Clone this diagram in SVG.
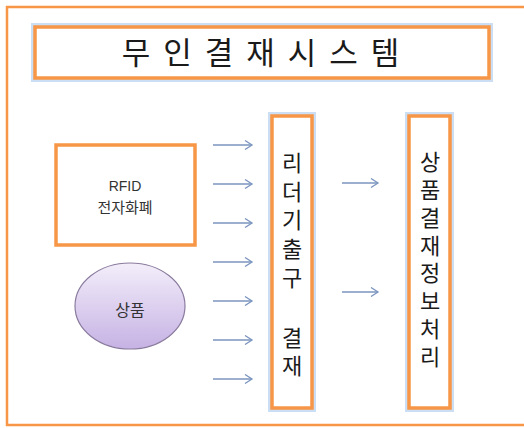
<svg xmlns="http://www.w3.org/2000/svg" width="524" height="428" viewBox="0 0 524 428">
<defs>
<style>
.frame{fill:none;stroke:#f79646;stroke-width:2.5}
.box{fill:#ffffff;stroke:#f79646;stroke-width:3.5}
.glow{fill:none;stroke:#a9c8ec;stroke-width:8;opacity:0.6}
.t{font-family:"Noto Sans CJK KR","Noto Sans",sans-serif;fill:#1a1a1a;text-anchor:middle}
.v{font-family:"Liberation Sans","Noto Sans CJK KR",sans-serif;fill:#1a1a1a;text-anchor:middle;font-size:22px}
.s{font-family:"Liberation Sans","Noto Sans CJK KR",sans-serif;fill:#333333;text-anchor:middle}
.arr{stroke:#7b95bf;stroke-width:1.3;fill:none}
</style>
<marker id="ah" markerWidth="10" markerHeight="10" refX="8" refY="5" orient="auto" markerUnits="userSpaceOnUse">
<path d="M1,0.5 L8,5 L1,9.5" fill="none" stroke="#7b95bf" stroke-width="1.3"/>
</marker>
<linearGradient id="eg" x1="0" y1="0" x2="0" y2="1">
<stop offset="0" stop-color="#f3eefa"/>
<stop offset="1" stop-color="#c6b2e4"/>
</linearGradient>
</defs>
<rect width="524" height="428" fill="#ffffff"/>
<rect class="frame" x="7" y="7" width="540" height="418"/>
<g id="title">
<rect class="glow" x="35" y="27" width="454" height="51"/>
<rect class="box" x="35" y="27" width="454" height="51"/>
<text class="t" x="262" y="64" font-size="31" letter-spacing="3">무 인 결 재 시 스 템</text>
</g>
<g id="rfid">
<rect class="box" x="56" y="145" width="139" height="100"/>
<text class="s" x="125" y="191" font-size="14">RFID</text>
<text class="s" x="125" y="213" font-size="15">전자화폐</text>
</g>
<g id="product">
<ellipse cx="130" cy="306" rx="55" ry="43" fill="url(#eg)" stroke="#8a7b9e" stroke-width="1.2"/>
<text class="s" x="130" y="316" font-size="16">상품</text>
</g>
<g id="reader">
<rect class="glow" x="272" y="116" width="40" height="292"/>
<rect class="box" x="272" y="116" width="40" height="292"/>
<text class="v" x="292" y="171">리</text>
<text class="v" x="292" y="200">더</text>
<text class="v" x="292" y="228">기</text>
<text class="v" x="292" y="257">출</text>
<text class="v" x="292" y="286">구</text>
<text class="v" x="292" y="346">결</text>
<text class="v" x="292" y="374">재</text>
</g>
<g id="process">
<rect class="glow" x="409" y="116" width="41" height="292"/>
<rect class="box" x="409" y="116" width="41" height="292"/>
<text class="v" x="430" y="170">상</text>
<text class="v" x="430" y="198">품</text>
<text class="v" x="430" y="226">결</text>
<text class="v" x="430" y="254">재</text>
<text class="v" x="430" y="281">정</text>
<text class="v" x="430" y="309">보</text>
<text class="v" x="430" y="337">처</text>
<text class="v" x="430" y="365">리</text>
</g>
<g id="connectors">
<line class="arr" x1="213" y1="145" x2="252" y2="145" marker-end="url(#ah)"/>
<line class="arr" x1="213" y1="184" x2="252" y2="184" marker-end="url(#ah)"/>
<line class="arr" x1="213" y1="223" x2="252" y2="223" marker-end="url(#ah)"/>
<line class="arr" x1="213" y1="262" x2="252" y2="262" marker-end="url(#ah)"/>
<line class="arr" x1="213" y1="301" x2="252" y2="301" marker-end="url(#ah)"/>
<line class="arr" x1="213" y1="340" x2="252" y2="340" marker-end="url(#ah)"/>
<line class="arr" x1="213" y1="379" x2="252" y2="379" marker-end="url(#ah)"/>
<line class="arr" x1="342" y1="183" x2="378" y2="183" marker-end="url(#ah)"/>
<line class="arr" x1="342" y1="292" x2="378" y2="292" marker-end="url(#ah)"/>
</g>
</svg>
